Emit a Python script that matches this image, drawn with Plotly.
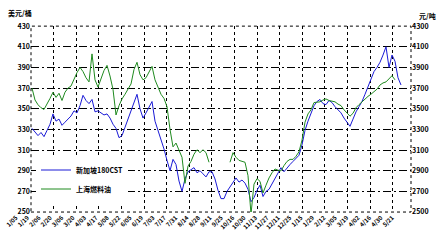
import plotly.graph_objects as go

# x-axis category labels (dates)
date_labels = ["1/05", "1/19", "2/06", "2/20", "3/06", "3/20", "4/03", "4/17",
               "5/08", "5/22", "6/05", "6/19", "7/03", "7/17", "7/31", "8/14",
               "8/28", "9/11", "9/25", "10/16", "10/30", "11/13", "11/27", "12/11",
               "12/25", "1/15", "1/29", "2/12", "3/05", "3/19", "4/02", "4/16",
               "4/30", "5/21"]

# Singapore 180CST (USD/t, left axis)
sg_180cst = [331, 328, 324, 327, 323, 329, 335, 345, 338, 340,
             334, 337, 340, 343, 348, 346, 353, 363, 358, 355,
             359, 347, 348, 346, 344, 345, 341, 335, 331, 322,
             324, 332, 340, 348, 356, 364, 350, 341, 346, 352,
             357, 338, 329, 322, 311, 300, 290, 301, 296, 280,
             270, 282, 289, 291, 293, 288, 290, 287, 284, 289,
             289, 282, 271, 263, 263, 270, 274, 278, 283, 279,
             281, 278, 272, 260, 264, 271, 276, 265, 270, 272,
             277, 282, 288, 293, 289, 293, 296, 299, 302, 305,
             315, 329, 338, 346, 353, 357, 359, 355, 354, 358,
             356, 352, 349, 346, 341, 337, 333, 340, 347, 352,
             357, 364, 372, 379, 386, 390, 395, 402, 410, 390,
             402, 396, 380, 373]

# Shanghai fuel oil (CNY/t, right axis)
sh_fuel_oil = [3700, 3585, 3539, 3510, 3493, 3540, 3600, 3660, 3610, 3650,
               3580, 3660, 3700, 3720, 3790, 3850, 3900, 3860, 3800, 3760,
               4031, 3780, 3710, 3800, 3870, 3920, 3817, 3687, 3440, 3530,
               3595, 3640, 3690, 3740, 3880, 3950, 3830, 3780, 3800, 3860,
               3910, 3780, 3700, 3640, 3600, 3520, 3300, 3131, 3168, 3100,
               3030, 2778, 2945, 2990, 3060, 3103, 3075, 3103, 3075, 2982,
               None, None, None, None, None, None, 2982, 3075, 3030, 3000,
               2991, 2982, 2852, 2481, 2770, 2824, 2797, 2685, 2760, 2830,
               2880, 2917, 2905, 2899, 2950, 2990, 3010, 3010, 3040, 3084,
               3196, 3370, 3450, 3490, 3560, 3567, 3567, 3585, 3595, 3580,
               3575, 3567, 3545, 3530, 3490, 3460, 3428, 3456, 3510, 3540,
               3567, 3600, 3620, 3641, 3670, 3690, 3730, 3750, 3760, 3790,
               3820, 3780, None, None]

idx = list(range(len(sg_180cst)))

W, H = 440, 240
PL, PR, PT, PB = 31, 411, 21, 215
dom_x = [PL / W, PR / W]
dom_y = [1 - PB / H, 1 - PT / H]

FONT = "Noto Sans CJK SC, DejaVu Sans, sans-serif"
tick_font = dict(family=FONT, size=7, color="black", weight="bold")

fig = go.Figure()
fig.add_trace(go.Scatter(x=idx, y=sg_180cst, name="新加坡180CST", mode="lines",
                         line=dict(color="#1a1ad6", width=1), legendgroup="a"))
fig.add_trace(go.Scatter(x=idx, y=sh_fuel_oil, name="上海燃料油", mode="lines", yaxis="y2",
                         line=dict(color="#1f8a1f", width=1), legendgroup="b",
                         connectgaps=False))
fig.add_trace(go.Scatter(x=[], y=[], xaxis="x2", yaxis="y3", showlegend=False,
                         hoverinfo="skip"))

fig.update_layout(
    width=W, height=H, autosize=False,
    margin=dict(l=0, r=0, t=0, b=0),
    paper_bgcolor="white", plot_bgcolor="rgba(0,0,0,0)",
    showlegend=True,
    legend=dict(x=36 / W, y=1 - 156 / H, xanchor="left", yanchor="top",
                bgcolor="white", font=dict(family=FONT, size=7, color="black", weight="bold"),
                tracegroupgap=0, itemwidth=30, traceorder="grouped"),
    xaxis=dict(domain=dom_x, range=[-1 / 3, (PR - 32) / 3], tick0=-1 / 3, dtick=22.6 / 3,
               showgrid=True, gridcolor="#000000", griddash="3px,3px", gridwidth=1,
               showticklabels=False, ticks="", zeroline=False, showline=False, layer="above traces"),
    yaxis=dict(domain=dom_y, range=[250, 430], tick0=250, dtick=20,
               showgrid=True, gridcolor="#000000", griddash="8px,3px,2px,3px", gridwidth=1,
               tickfont=tick_font, ticks="", zeroline=False, showline=False),
    yaxis2=dict(overlaying="y", side="right", range=[2500, 4300], tick0=2500, dtick=200,
                showgrid=False, tickfont=tick_font, ticks="", zeroline=False),
    xaxis2=dict(domain=[0, 1], anchor="y3", range=[-16 / 11.4, (W - 16) / 11.4],
                tickmode="array", tickvals=list(range(len(date_labels))),
                ticktext=date_labels, tickangle=-45,
                tickfont=dict(family=FONT, size=6, color="black", weight="bold"),
                showgrid=False, zeroline=False, showline=False, ticks=""),
    yaxis3=dict(domain=dom_y, range=[0, 1], visible=False),
    shapes=[dict(type="rect", xref="x domain", yref="y domain", x0=0, x1=1, y0=0, y1=1,
                 line=dict(color="black", width=1, dash="3px,3px"))],
    annotations=[
        dict(text="美元/桶", xref="paper", yref="paper", x=6 / W, y=1 - 7 / H,
             xanchor="left", yanchor="middle", showarrow=False,
             font=dict(family=FONT, size=7, color="black", weight="bold")),
        dict(text="元/吨", xref="paper", yref="paper", x=417 / W, y=1 - 10 / H,
             xanchor="left", yanchor="middle", showarrow=False,
             font=dict(family=FONT, size=7, color="black", weight="bold")),
    ],
)

fig.write_html("out.html")
